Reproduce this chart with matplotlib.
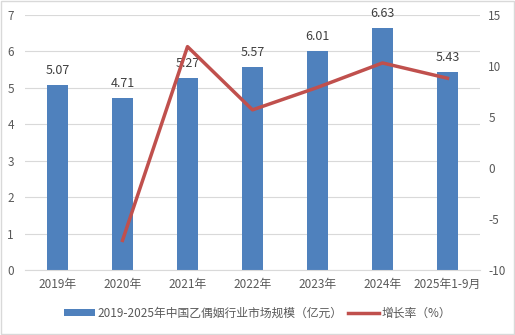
import numpy as np
import matplotlib
matplotlib.use('Agg')
import matplotlib.pyplot as plt

plt.rcParams['font.family'] = ['Noto Sans CJK SC', 'DejaVu Sans']
plt.rcParams['axes.unicode_minus'] = False

years = ['2019年', '2020年', '2021年', '2022年', '2023年', '2024年', '2025年1-9月']
market_size = [5.07, 4.71, 5.27, 5.57, 6.01, 6.63, 5.43]
growth_rate = [np.nan, -7.1, 11.9, 5.7, 7.9, 10.3, 8.8]

bar_color = '#4F81BD'
line_color = '#C0504D'
text_color = '#595959'

fig = plt.figure(figsize=(5.15, 3.35), dpi=100)
ax1 = fig.add_axes([25 / 515, 65 / 335, 455 / 515, 255 / 335])
ax2 = ax1.twinx()

x = np.arange(len(years))
ax1.bar(x, market_size, width=0.32, color=bar_color, zorder=2,
        label='2019-2025年中国乙偶姻行业市场规模（亿元）')
for xi, v in zip(x, market_size):
    ax1.text(xi, v + 0.22, f'{v:.2f}', ha='center', va='bottom', fontsize=9, color='#404040')

ax2.plot(x, growth_rate, color=line_color, linewidth=2.5, zorder=3, label='增长率（%）')

ax1.set_ylim(0, 7)
ax1.set_yticks(range(0, 8))
ax2.set_ylim(-10, 15)
ax2.set_yticks(range(-10, 16, 5))
ax1.set_xlim(-0.5, len(years) - 0.5)
ax1.set_xticks(x)
ax1.set_xticklabels(years)

ax1.grid(axis='y', color='#D9D9D9', linewidth=0.8, zorder=0)
ax1.set_axisbelow(True)
for ax in (ax1, ax2):
    for s in ax.spines.values():
        s.set_visible(False)
    ax.tick_params(length=0, labelsize=8.5, labelcolor=text_color)
ax1.spines['bottom'].set_visible(True)
ax1.spines['bottom'].set_color('#D9D9D9')
ax1.tick_params(axis='x', pad=6)
ax1.tick_params(axis='y', pad=8)
ax2.tick_params(axis='y', pad=6)

h1, l1 = ax1.get_legend_handles_labels()
h2, l2 = ax2.get_legend_handles_labels()
fig.legend(h1 + h2, l1 + l2, loc='center', bbox_to_anchor=(0.5, 0.065), ncol=2,
           frameon=False, fontsize=8.5, labelcolor=text_color, handlelength=2.6,
           handleheight=0.5, columnspacing=0.5, handletextpad=0.2)

fig.patches.append(plt.Rectangle((0.001, 0.002), 0.997, 0.995, transform=fig.transFigure,
                                 fill=False, edgecolor='#D9D9D9', linewidth=1))

fig.savefig('out.png', dpi=100)
